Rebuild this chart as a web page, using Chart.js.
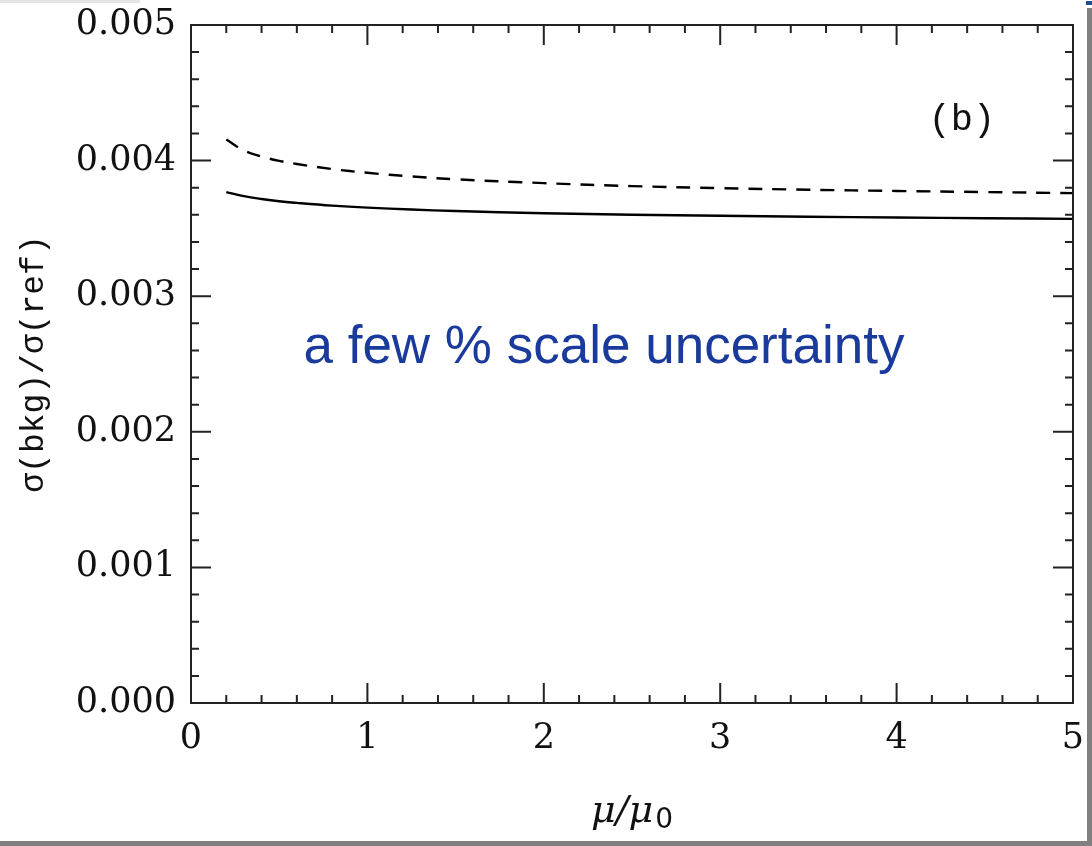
<!DOCTYPE html>
<html>
<head>
<meta charset="utf-8">
<script src="https://cdn.jsdelivr.net/npm/chart.js@4.4.1/dist/chart.umd.min.js"></script>
<style>
  html, body { margin: 0; padding: 0; background: #ffffff; }
  #c { display: block; }
</style>
</head>
<body>
<canvas id="c" width="1092" height="846"></canvas>
<script>
// ---- data ----
const muValues     = [0.2, 0.3, 0.4, 0.5, 0.6, 0.8, 1.0, 1.25, 1.5, 2.0, 2.5, 3.0, 3.5, 4.0, 4.5, 5.0];
const solidValues  = [0.003767, 0.003738, 0.003717, 0.003700, 0.003688, 0.003668, 0.003653, 0.003639, 0.003628, 0.003612, 0.003601, 0.003593, 0.003586, 0.003580, 0.003575, 0.003570];
const dashedValues = [0.004156, 0.004075, 0.004030, 0.003998, 0.003975, 0.003938, 0.003910, 0.003883, 0.003862, 0.003834, 0.003812, 0.003797, 0.003785, 0.003776, 0.003768, 0.003760];
const xTickValues  = [0, 1, 2, 3, 4, 5];
const yTickValues  = [0.000, 0.001, 0.002, 0.003, 0.004, 0.005];
const panelLabel   = "(b)";
const noteText     = "a few % scale uncertainty";
const xTitleMain   = "\u03BC/\u03BC";
const xTitleSub    = "0";
const yTitle       = "\u03C3(bkg)/\u03C3(ref)";

const toPoints = (xs, ys) => xs.map((x, i) => ({ x: x, y: ys[i] }));

// frame with inward ticks on all four sides
const framePlugin = {
  id: 'frame',
  afterDatasetsDraw(chart) {
    const { ctx, chartArea: a, scales: { x, y } } = chart;
    ctx.save();
    ctx.strokeStyle = '#222';
    ctx.lineWidth = 2;
    ctx.strokeRect(a.left, a.top, a.right - a.left, a.bottom - a.top);
    const major = 20, minor = 8;
    ctx.beginPath();
    for (let i = 1; i < 25; i++) {
      const px = x.getPixelForValue(i * 0.2);
      const len = (i % 5 === 0) ? major : minor;
      ctx.moveTo(px, a.bottom); ctx.lineTo(px, a.bottom - len);
      ctx.moveTo(px, a.top);    ctx.lineTo(px, a.top + len);
    }
    for (let i = 1; i < 25; i++) {
      const py = y.getPixelForValue(i * 0.0002);
      const len = (i % 5 === 0) ? major : minor;
      ctx.moveTo(a.left, py);  ctx.lineTo(a.left + len, py);
      ctx.moveTo(a.right, py); ctx.lineTo(a.right - len, py);
    }
    ctx.stroke();
    ctx.restore();
  }
};

// text annotations placed in data coordinates
const textPlugin = {
  id: 'texts',
  afterDraw(chart) {
    const { ctx, chartArea: a, scales: { x, y } } = chart;
    ctx.save();
    ctx.fillStyle = '#1a3a9c';
    ctx.font = '53px "Liberation Sans", Arial, sans-serif';
    ctx.textAlign = 'center';
    ctx.textBaseline = 'alphabetic';
    ctx.fillText(noteText, x.getPixelForValue(2.341), y.getPixelForValue(0.002504));

    ctx.fillStyle = '#111';
    ctx.font = '37px "Liberation Mono", "DejaVu Sans Mono", monospace';
    ctx.textBaseline = 'middle';
    ctx.fillText(panelLabel, x.getPixelForValue(4.37), y.getPixelForValue(0.004296));

    // x-axis title with subscript
    const cx = (a.left + a.right) / 2;
    const base = 822;
    ctx.textBaseline = 'alphabetic';
    ctx.textAlign = 'left';
    const mainFont = 'italic 38px "DejaVu Serif", serif';
    const subFont = '28px "DejaVu Sans", sans-serif';
    ctx.font = mainFont;
    const w1 = ctx.measureText(xTitleMain).width;
    ctx.font = subFont;
    const w2 = ctx.measureText(xTitleSub).width;
    const start = cx - (w1 + w2 + 2) / 2;
    ctx.font = mainFont;
    ctx.fillText(xTitleMain, start, base);
    ctx.font = subFont;
    ctx.fillText(xTitleSub, start + w1 + 2, base + 6);
    ctx.restore();
  }
};

// slide frame decoration (gray edges)
const slidePlugin = {
  id: 'slide',
  beforeDraw(chart) {
    const ctx = chart.ctx;
    ctx.save();
    ctx.fillStyle = '#ffffff';
    ctx.fillRect(0, 0, chart.width, chart.height);
    ctx.fillStyle = '#e4e4e4';
    ctx.fillRect(0, 0, 140, 3);
    ctx.fillStyle = '#808080';
    ctx.fillRect(1087, 8, 5, 838);
    ctx.fillRect(0, 841, 1092, 5);
    ctx.fillStyle = '#1f4e8c';
    ctx.fillRect(1086, 1, 6, 4);
    ctx.restore();
  }
};

new Chart(document.getElementById('c'), {
  type: 'line',
  data: {
    datasets: [
      {
        label: 'solid',
        data: toPoints(muValues, solidValues),
        borderColor: '#000',
        borderWidth: 2.4,
        pointRadius: 0,
        fill: false,
        tension: 0.4
      },
      {
        label: 'dashed',
        data: toPoints(muValues, dashedValues),
        borderColor: '#000',
        borderWidth: 2.4,
        borderDash: [14, 10],
        pointRadius: 0,
        fill: false,
        tension: 0.4
      }
    ]
  },
  options: {
    responsive: false,
    animation: false,
    devicePixelRatio: 1,
    layout: { padding: { top: 25, right: 19, bottom: 0, left: 0 } },
    plugins: { legend: { display: false }, tooltip: { enabled: false } },
    scales: {
      x: {
        type: 'linear',
        min: 0, max: 5,
        afterBuildTicks: s => { s.ticks = xTickValues.map(v => ({ value: v })); },
        afterFit: s => { s.height = 143; s.paddingLeft = 0; s.paddingRight = 0; },
        grid: { display: false, drawTicks: false },
        border: { display: false },
        ticks: {
          color: '#111',
          padding: 15,
          maxRotation: 0,
          font: { family: '"DejaVu Serif", serif', size: 35 },
          callback: v => String(v)
        },
        title: { display: false }
      },
      y: {
        type: 'linear',
        min: 0, max: 0.005,
        afterBuildTicks: s => { s.ticks = yTickValues.map(v => ({ value: v })); },
        afterFit: s => { s.width = 191; s.paddingTop = 0; s.paddingBottom = 0; },
        grid: { display: false, drawTicks: false },
        border: { display: false },
        ticks: {
          color: '#111',
          padding: 15,
          font: { family: '"DejaVu Serif", serif', size: 35 },
          callback: v => Number(v).toFixed(3)
        },
        title: {
          display: true,
          text: yTitle,
          color: '#111',
          font: { family: '"Liberation Mono", "DejaVu Sans Mono", monospace', size: 33 },
          padding: { top: 14, bottom: 0 }
        }
      }
    }
  },
  plugins: [slidePlugin, framePlugin, textPlugin]
});
</script>
</body>
</html>
